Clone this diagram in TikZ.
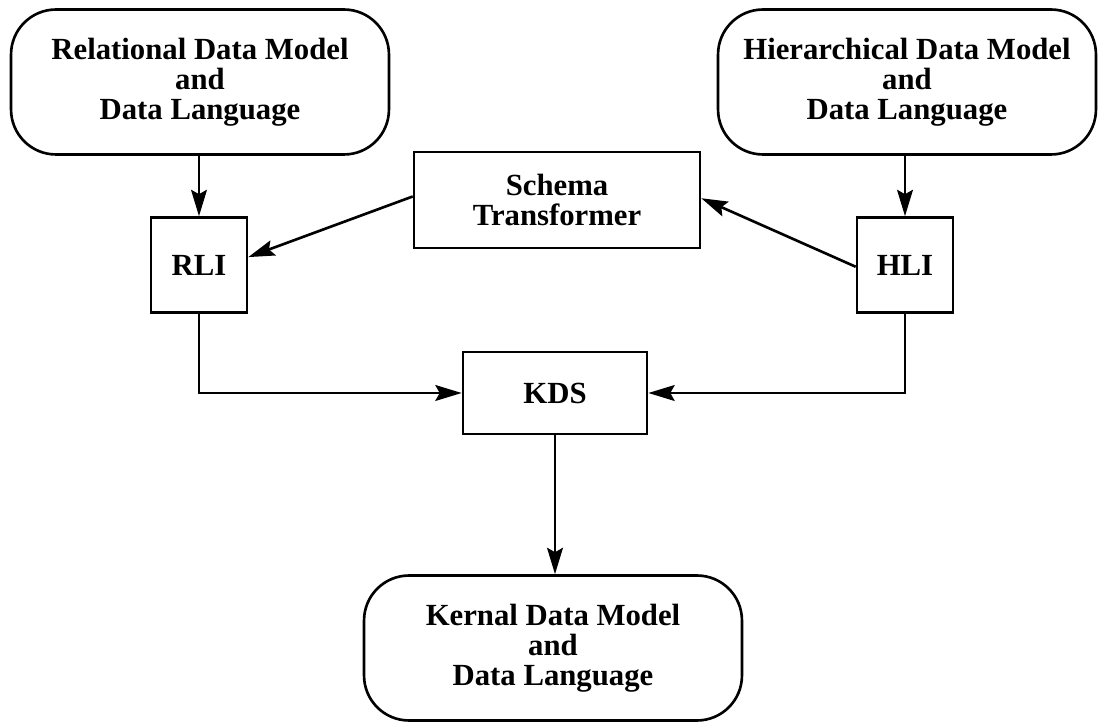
\documentclass[tikz,border=0pt]{standalone}
\usepackage{fontspec}
\setmainfont{Liberation Serif}
\usetikzlibrary{arrows.meta}

\begin{document}
\begin{tikzpicture}[x=0.02cm, y=-0.02cm, line width=1.5pt,
  model/.style={draw, rounded corners=0.9cm, minimum width=7.56cm,
    minimum height=2.9cm, align=center,
    font=\fontsize{17.5}{17}\selectfont\bfseries},
  unit/.style={draw, align=center, inner sep=0pt,
    font=\fontsize{17.5}{17}\selectfont\bfseries},
  link/.style={-{Stealth[length=15pt, width=9pt, inset=2.5pt]}}]
  \useasboundingbox (0,0) rectangle (1098,722);

  % Data models and languages
  \node[model] (rdm) at (200,82) {Relational Data Model\\and\\Data Language};
  \node[model] (hdm) at (907,82) {Hierarchical Data Model\\and\\Data Language};
  \node[model] (kdm) at (553,648) {Kernal Data Model\\and\\Data Language};

  % Interfaces and transformer
  \node[unit, minimum width=5.72cm, minimum height=1.92cm] (st) at (557,200) {Schema\\Transformer};
  \node[unit, minimum width=1.92cm, minimum height=1.9cm] (rli) at (199,265) {RLI};
  \node[unit, minimum width=1.92cm, minimum height=1.9cm] (hli) at (905,265) {HLI};
  \node[unit, minimum width=3.68cm, minimum height=1.64cm] (kds) at (555,393) {KDS};

  % Connections
  \draw[link] (rdm.south -| rli.north) -- (rli.north);
  \draw[link] (hdm.south -| hli.north) -- (hli.north);
  \draw[link] ([yshift=2pt]st.west) -- ([yshift=4.5pt]rli.east);
  \draw[link] ([yshift=-1pt]hli.west) -- ([yshift=1pt]st.east);
  \draw[link] (rli.south) |- (kds.west);
  \draw[link] (hli.south) |- (kds.east);
  \draw[link] (kds.south) -- (kds.south |- kdm.north);
\end{tikzpicture}
\end{document}
